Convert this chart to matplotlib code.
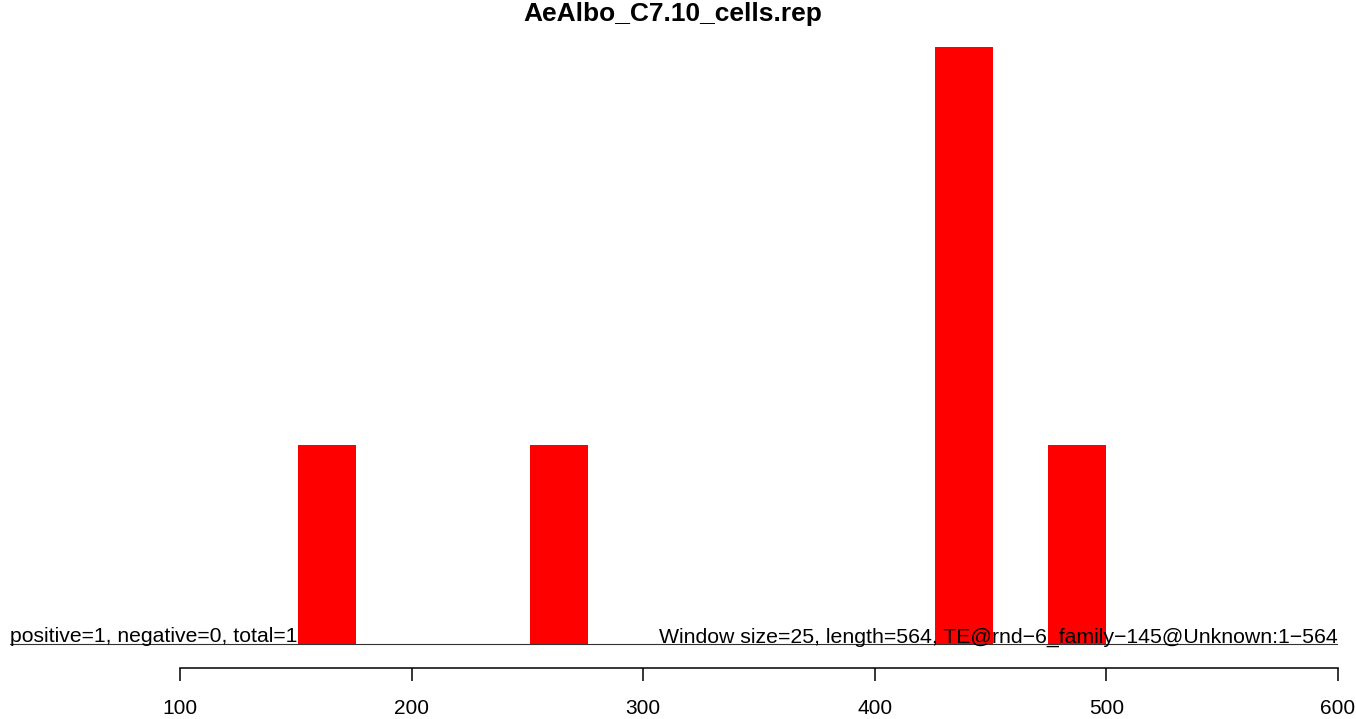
import matplotlib.pyplot as plt

plt.rcParams["font.family"] = ["Liberation Sans", "DejaVu Sans"]

title = "AeAlbo_C7.10_cells.rep"
win_size = 25
win_start = [151, 251, 426, 475]
counts = [1, 1, 3, 1]
xticks = [100, 200, 300, 400, 500, 600]
left_note = "positive=1, negative=0, total=1"
right_note = "Window size=25, length=564, TE@rnd\u22126_family\u2212145@Unknown:1\u2212564"

W, H = 1356, 719
fig = plt.figure(figsize=(W / 100, H / 100), dpi=100)

# axes placed in pixels: x 10..1338, y 47 (top) .. 668 (axis line)
ax = fig.add_axes([10 / W, (H - 668) / H, (1338 - 10) / W, (668 - 47) / H])
ax.set_xlim(26.6, 600)
ax.set_ylim(-0.1206, 3)

ax.bar(win_start, counts, width=win_size, align="edge", color="red",
       linewidth=0, zorder=2)
ax.axhline(0, color="#333333", linewidth=0.8, zorder=3)

ax.text(26.6, 0.008, left_note, ha="left", va="baseline", fontsize=15.2, zorder=4)
ax.text(600, 0.008, right_note, ha="right", va="baseline", fontsize=15.3, zorder=4)

for s in ["top", "right", "left"]:
    ax.spines[s].set_visible(False)
ax.spines["bottom"].set_position(("data", -0.1206))
ax.spines["bottom"].set_bounds(100, 600)
ax.spines["bottom"].set_linewidth(1.1)
ax.set_yticks([])
ax.set_xticks(xticks)
ax.tick_params(axis="x", length=9.5, width=1.1, pad=13, labelsize=15)

fig.text(673 / W, 1 - 14 / H, title, ha="center", va="center",
         fontsize=19, fontweight="bold")

plt.savefig("out.png", dpi=100)
